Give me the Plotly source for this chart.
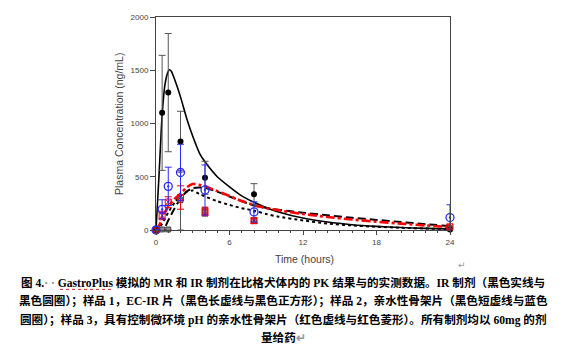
import plotly.graph_objects as go

# ---- data ----
t_obs = [0, 0.5, 1, 2, 4, 8, 24]
ir_obs = [0, 1100, 1290, 830, 490, 335, 5]
ir_err = [0, 540, 555, 285, 155, 100, 0]
s1_obs = [0, 5, 5, 280, 170, 90, 15]
s1_err = [0, 0, 0, 280, 40, 20, 15]
s2_obs = [0, 194, 410, 540, 376, 170, 117]
s2_err = [0, 90, 180, 265, 235, 95, 120]
s3_obs = [0, 136, 262, 305, 175, 87, 30]
s3_err = [0, 40, 50, 110, 40, 25, 20]

t_ir = [0, 0.25, 0.5, 0.75, 1.0, 1.1, 1.25, 1.5, 2, 2.5, 3, 3.6, 4, 5, 6, 7, 8, 9, 10, 12, 14, 16, 18, 20, 22, 24]
ir_sim = [0, 520, 1080, 1380, 1490, 1505, 1490, 1420, 1250, 1050, 880, 710, 640, 500, 405, 320, 260, 210, 170, 112, 75, 50, 34, 23, 15, 10]

t_s1 = [0, 0.5, 0.75, 1, 1.5, 2, 2.5, 3, 3.5, 4, 5, 6, 7, 8, 9, 10, 12, 14, 16, 18, 20, 22, 24]
s1_sim = [0, 0, 30, 90, 200, 295, 360, 392, 400, 395, 360, 315, 270, 230, 208, 190, 162, 138, 115, 95, 75, 55, 37]

t_s2 = [0, 0.25, 0.5, 1, 1.5, 2, 2.5, 3, 3.5, 4, 5, 6, 7, 8, 9, 10, 12, 14, 16, 18, 20, 22, 24]
s2_sim = [0, 20, 60, 165, 255, 320, 360, 370, 340, 315, 270, 235, 205, 182, 150, 125, 90, 60, 43, 30, 21, 14, 10]

t_s3 = [0, 0.25, 0.5, 1, 1.5, 2, 2.5, 3, 3.5, 4, 5, 6, 7, 8, 9, 10, 12, 14, 16, 18, 20, 22, 24]
s3_sim = [0, 40, 110, 220, 290, 340, 400, 432, 425, 410, 365, 320, 272, 235, 205, 185, 150, 122, 98, 78, 60, 43, 28]

x_ticks = [0, 6, 12, 18, 24]
y_ticks = [0, 500, 1000, 1500, 2000]

x_title = "Time (hours)"
y_title = "Plasma Concentration (ng/mL)"
caption_lines = [
    "图 4.<span style='color:#888'>· ·</span> GastroPlus 模拟的 MR 和 IR 制剂在比格犬体内的 PK 结果与的实测数据。IR 制剂（黑色实线与",
    "黑色圆圈）；样品 1，EC-IR 片（黑色长虚线与黑色正方形）；样品 2，亲水性骨架片（黑色短虚线与蓝色",
    "圆圈）；样品 3，具有控制微环境 pH 的亲水性骨架片（红色虚线与红色菱形）。所有制剂均以 60mg 的剂",
    "量给药<span style='color:#999'>↵</span>",
]

# ---- layout geometry (page pixels; the page body adds an 8px offset) ----
OFF = 8
W, H = 576 - OFF, 355 - OFF
L = 156 - OFF
T = 13 - OFF
R = 576 - 450
B = 355 - 230
pw, ph = W - L - R, H - T - B

def px(x):
    return (x - OFF - L) / pw

def py(y):
    return (H - B - (y - OFF)) / ph

fig = go.Figure()

# simulated curves
fig.add_trace(go.Scatter(x=t_ir, y=ir_sim, mode="lines", line=dict(color="black", width=1.6, shape="spline", smoothing=0.6), showlegend=False))
fig.add_trace(go.Scatter(x=t_s1, y=s1_sim, mode="lines", line=dict(color="black", width=2, dash="8px,4px", shape="spline", smoothing=0.6), showlegend=False))
fig.add_trace(go.Scatter(x=t_s2, y=s2_sim, mode="lines", line=dict(color="black", width=2, dash="dot", shape="spline", smoothing=0.6), showlegend=False))
fig.add_trace(go.Scatter(x=t_s3, y=s3_sim, mode="lines", line=dict(color="#ff0000", width=2.6, dash="dashdot", shape="spline", smoothing=0.6), showlegend=False))

# observed
fig.add_trace(go.Scatter(x=t_obs, y=s1_obs, mode="markers",
    marker=dict(symbol="square", size=5, color="#8a8a8a", line=dict(color="#333", width=0.8)),
    error_y=dict(type="data", array=s1_err, color="#555", thickness=1, width=3), showlegend=False, cliponaxis=False))
fig.add_trace(go.Scatter(x=t_obs, y=ir_obs, mode="markers",
    marker=dict(symbol="circle", size=6, color="black"),
    error_y=dict(type="data", array=ir_err, color="#555", thickness=1, width=3.5), showlegend=False, cliponaxis=False))
fig.add_trace(go.Scatter(x=t_obs, y=s3_obs, mode="markers",
    marker=dict(symbol="square-x-open", size=6, color="#ff0000", line=dict(width=1)),
    error_y=dict(type="data", array=s3_err, color="#ff0000", thickness=1, width=3.5), showlegend=False, cliponaxis=False))
fig.add_trace(go.Scatter(x=t_obs, y=s2_obs, mode="markers",
    marker=dict(symbol="circle-open-dot", size=8, color="#2a2aff", line=dict(width=1.3)),
    error_y=dict(type="data", array=s2_err, color="#2a2aff", thickness=1, width=3.5), showlegend=False, cliponaxis=False))

axis_font = dict(family="Liberation Sans, Arial, sans-serif", size=8, color="#444")

fig.update_xaxes(range=[0, 24], tickvals=x_ticks, ticktext=[str(v) for v in x_ticks],
                 showgrid=False, zeroline=False, showline=True, linecolor="#444", linewidth=1,
                 mirror=True, ticks="outside", ticklen=4, tickcolor="#444", tickfont=axis_font,
                 minor=dict(dtick=1, ticks="outside", ticklen=2, tickcolor="#444"))
fig.update_yaxes(range=[0, 2000], tickvals=y_ticks, ticktext=[str(v) for v in y_ticks],
                 showgrid=False, zeroline=False, showline=True, linecolor="#444", linewidth=1,
                 mirror=True, ticks="outside", ticklen=5, tickcolor="#444", tickfont=axis_font)

ann = []
ann.append(dict(text=y_title, xref="paper", yref="paper", x=px(119), y=py(122), textangle=-90,
                showarrow=False, xanchor="center", yanchor="middle",
                font=dict(family="Liberation Sans, Arial, sans-serif", size=10.5, color="#444")))
ann.append(dict(text=x_title, xref="paper", yref="paper", x=px(304), y=py(260),
                showarrow=False, xanchor="center", yanchor="middle",
                font=dict(family="Liberation Sans, Arial, sans-serif", size=10.5, color="#444")))
ann.append(dict(text="↵", xref="paper", yref="paper", x=px(462), y=py(266),
                showarrow=False, xanchor="center", yanchor="middle",
                font=dict(family="DejaVu Sans", size=9, color="#999")))
cap_y = [283.5, 302.5, 321.5, 340.5]
for line, yy in zip(caption_lines, cap_y):
    ann.append(dict(text="<b>" + line + "</b>", xref="paper", yref="paper", x=px(283), y=py(yy),
                    showarrow=False, xanchor="center", yanchor="middle",
                    font=dict(family="Liberation Serif, Noto Sans CJK SC, serif", size=11.6, color="black")))

# spell-check squiggle under "GastroPlus"
shapes = [dict(type="line", xref="paper", yref="paper", x0=px(60), x1=px(112), y0=py(290.5), y1=py(290.5),
               line=dict(color="#e02020", width=1, dash="dot"))]

fig.update_layout(width=W, height=H, margin=dict(l=L, r=R, t=T, b=B),
                  paper_bgcolor="white", plot_bgcolor="white", annotations=ann, shapes=shapes,
                  showlegend=False)

fig.write_html("out.html")
